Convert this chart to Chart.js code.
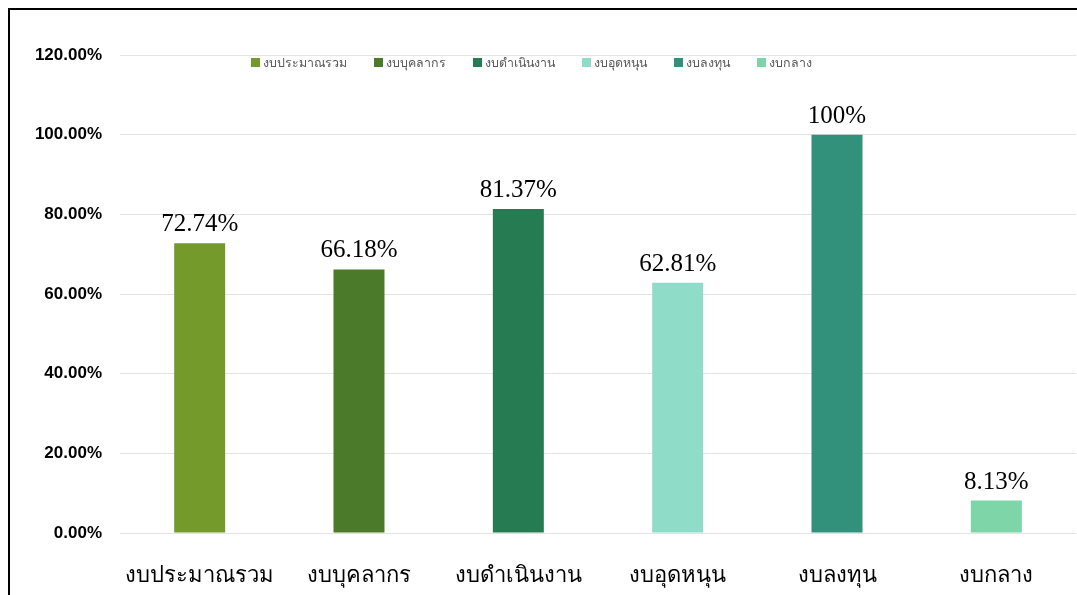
<!DOCTYPE html>
<html>
<head>
<meta charset="utf-8">
<script src="https://cdn.jsdelivr.net/npm/chart.js@4.4.1/dist/chart.umd.min.js"></script>
<style>
  html, body { margin: 0; padding: 0; background: #fff; }
  #wrap { position: relative; width: 1077px; height: 595px; overflow: hidden; }
  #frame { position: absolute; left: 8px; top: 8px; width: 2000px; height: 2000px;
           border: 2px solid #000; pointer-events: none; }
  canvas { position: absolute; left: 0; top: 0; }
</style>
</head>
<body>
<div id="wrap">
  <canvas id="myChart" width="1077" height="595"></canvas>
  <div id="frame"></div>
</div>
<script>
const categories = ['งบประมาณรวม', 'งบบุคลากร', 'งบดำเนินงาน', 'งบอุดหนุน', 'งบลงทุน', 'งบกลาง'];
const percentValues = [72.74, 66.18, 81.37, 62.81, 100, 8.13];
const barColors = ['#739a2b', '#4a7a2a', '#277b53', '#8fdcc9', '#31917a', '#7dd5a8'];
const yTicks = [0, 20, 40, 60, 80, 100, 120];

// value labels above each bar
const valueLabels = {
    id: 'valueLabels',
    afterDatasetsDraw(chart) {
        const ctx = chart.ctx;
        const meta = chart.getDatasetMeta(0);
        ctx.save();
        ctx.font = '25px "Liberation Serif", "Times New Roman", serif';
        ctx.fillStyle = '#000';
        ctx.textAlign = 'center';
        ctx.textBaseline = 'bottom';
        meta.data.forEach(function (bar, i) {
            const v = percentValues[i];
            const txt = Number.isInteger(v) ? v + '%' : v.toFixed(2) + '%';
            ctx.fillText(txt, bar.x, bar.y - 6);
        });
        ctx.restore();
    }
};

// legend drawn inside the plot area, like the original
const innerLegend = {
    id: 'innerLegend',
    afterDraw(chart) {
        const ctx = chart.ctx;
        ctx.save();
        ctx.font = '12.4px "Noto Sans", sans-serif';
        ctx.textBaseline = 'middle';
        let x = 251;
        const y = 63;
        categories.forEach(function (name, i) {
            ctx.fillStyle = barColors[i];
            ctx.fillRect(x, y - 5, 9, 9);
            ctx.fillStyle = '#595959';
            ctx.fillText(name, x + 12, y);
            x += 12 + ctx.measureText(name).width + 27;
        });
        ctx.restore();
    }
};

const ctx = document.getElementById('myChart').getContext('2d');
new Chart(ctx, {
    type: 'bar',
    data: {
        labels: categories,
        datasets: [{
            data: percentValues,
            backgroundColor: barColors,
            borderWidth: 0,
            barPercentage: 0.32,
            categoryPercentage: 1
        }]
    },
    options: {
        responsive: false,
        animation: false,
        layout: { padding: { top: 55, right: 1, bottom: 0, left: 0 } },
        plugins: {
            legend: { display: false },
            tooltip: { enabled: false }
        },
        scales: {
            x: {
                afterFit(scale) { scale.height = 62; },
                grid: { display: false },
                border: { display: false },
                ticks: {
                    color: '#000',
                    padding: 22,
                    font: { size: 22, family: '"Noto Sans", sans-serif' }
                }
            },
            y: {
                min: 0,
                max: 120,
                afterFit(scale) { scale.width = 120; },
                afterBuildTicks(scale) { scale.ticks = yTicks.map(v => ({ value: v })); },
                grid: { color: '#e3e3e3', drawTicks: false },
                border: { display: false },
                ticks: {
                    color: '#000',
                    padding: 18,
                    font: { size: 17, weight: 'bold', family: '"Liberation Sans", Arial, sans-serif' },
                    callback: v => v.toFixed(2) + '%'
                }
            }
        }
    },
    plugins: [valueLabels, innerLegend]
});
</script>
</body>
</html>
